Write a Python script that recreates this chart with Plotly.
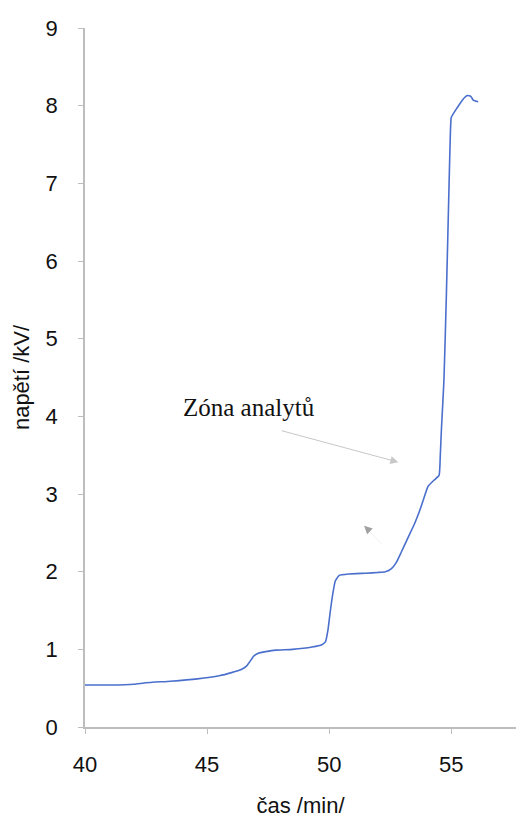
import plotly.graph_objects as go

cas = [40.0, 41.0, 42.0, 42.5, 43.5, 44.6, 45.5, 46.0, 46.4, 46.6, 46.75, 46.9, 47.1, 47.4, 47.8,
       48.5, 49.3, 49.7, 49.85, 49.95, 50.05, 50.15, 50.25, 50.4, 50.8, 51.5, 52.0, 52.3, 52.55,
       52.75, 52.95, 53.2, 53.5, 53.7, 53.85, 54.05, 54.3, 54.5, 54.55, 54.6, 54.7, 54.8, 54.9,
       54.95, 55.0, 55.15, 55.3, 55.45, 55.65, 55.8, 55.9, 56.1]
napeti = [0.54, 0.54, 0.55, 0.57, 0.59, 0.62, 0.66, 0.70, 0.74, 0.78, 0.84, 0.91, 0.95, 0.97, 0.99,
          1.0, 1.03, 1.06, 1.10, 1.25, 1.5, 1.72, 1.88, 1.95, 1.97, 1.98, 1.99, 2.0, 2.04,
          2.12, 2.25, 2.42, 2.62, 2.78, 2.92, 3.10, 3.18, 3.24, 3.5, 3.86, 4.47, 5.58, 6.87,
          7.5, 7.85, 7.93, 8.0, 8.07, 8.13, 8.12, 8.07, 8.05]

x_ticks = [40, 45, 50, 55]
y_ticks = [0, 1, 2, 3, 4, 5, 6, 7, 8, 9]

fig = go.Figure()
fig.add_trace(go.Scatter(x=cas, y=napeti, mode="lines", line_shape="spline",
                         line=dict(color="#4a6fcc", width=1.6, smoothing=0.4), showlegend=False))

fig.add_annotation(x=46.72, y=4.12, text="Zóna analytů", showarrow=False,
                   font=dict(family="Liberation Serif", size=25, color="#111"))
fig.add_annotation(x=52.83, y=3.41, ax=47.99, ay=3.82, axref="x", ayref="y",
                   xref="x", yref="y", showarrow=True, arrowhead=2, arrowsize=1.6,
                   arrowwidth=1, arrowcolor="#c8c8c8", text="")
fig.add_annotation(x=51.43, y=2.59, ax=52.2, ay=2.34, axref="x", ayref="y",
                   xref="x", yref="y", showarrow=True, arrowhead=2, arrowsize=1.6,
                   arrowwidth=1, arrowcolor="rgba(160,160,160,0.12)", text="")
fig.add_annotation(x=51.43, y=2.59, ax=51.6, ay=2.54, axref="x", ayref="y",
                   xref="x", yref="y", showarrow=True, arrowhead=2, arrowsize=1.6,
                   arrowwidth=1, arrowcolor="#a0a0a0", text="")

axis_font = dict(family="Liberation Sans", size=22, color="#111")
title_font = dict(family="Liberation Sans", size=22, color="#111")
fig.update_layout(
    width=516, height=818,
    margin=dict(l=85, r=0, t=28, b=91),
    plot_bgcolor="white", paper_bgcolor="white",
    xaxis=dict(range=[40, 57.65], tickvals=x_ticks, showgrid=False, zeroline=False,
               showline=True, linecolor="#bdbdbd", linewidth=1.5, ticks="outside",
               ticklen=5, tickcolor="#bdbdbd", tickfont=axis_font, ticklabelstandoff=12,
               title=dict(text="čas /min/", font=title_font, standoff=22)),
    yaxis=dict(range=[0, 9], tickvals=y_ticks, showgrid=False, zeroline=False,
               showline=True, linecolor="#bdbdbd", linewidth=1.5, ticks="outside",
               ticklen=5, tickcolor="#bdbdbd", tickfont=axis_font, ticklabelstandoff=16,
               title=dict(text="napětí /kV/", font=title_font, standoff=10)),
)

fig.write_html("out.html")
